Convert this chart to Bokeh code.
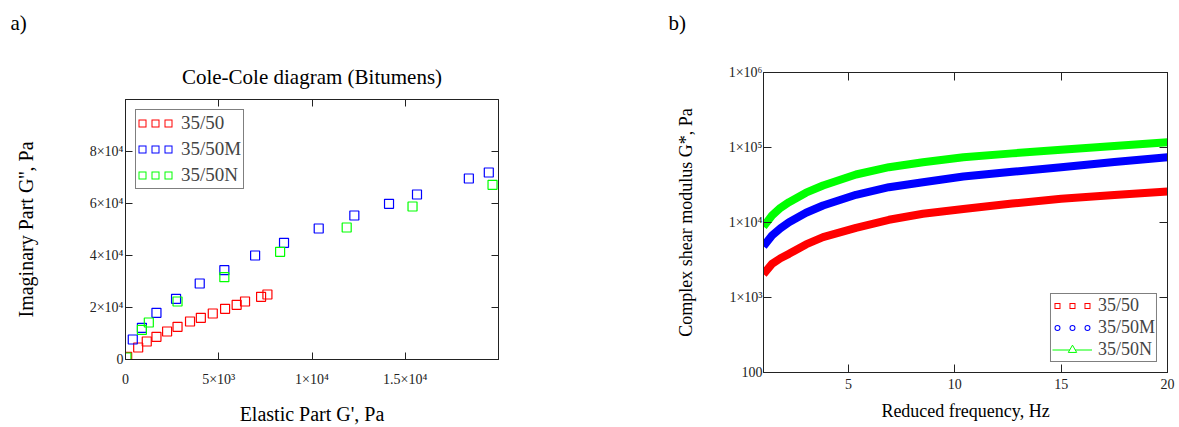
from bokeh.plotting import figure
from bokeh.layouts import row, column
from bokeh.models import (Range1d, LinearAxis, LogAxis, FixedTicker, CustomJSTickFormatter,
                          Legend, LegendItem, Title, Label)
from bokeh.embed import file_html
from bokeh.resources import INLINE

FONT = "Liberation Serif"

# ---------------- panel a) : Cole-Cole diagram ----------------
series_labels = ["35/50", "35/50M", "35/50N"]
red_gp = [90, 680, 1140, 1660, 2230, 2790, 3460, 4040, 4680, 5340, 5960, 6410, 7270, 7610]
red_gpp = [1030, 4620, 6920, 8720, 10770, 12560, 14620, 16030, 17690, 19490, 21030, 22310, 24100, 25000]
blue_gp = [390, 880, 1660, 2710, 3980, 5300, 6950, 8500, 10360, 12270, 14130, 15630, 18410, 19480]
blue_gpp = [7690, 12180, 17950, 23330, 29230, 34360, 40000, 44870, 50380, 55380, 59870, 63460, 69620, 71920]
green_gp = [50, 880, 1250, 2790, 5300, 8290, 11860, 15390, 19680]
green_gpp = [770, 11410, 14230, 22310, 31670, 41410, 50770, 58850, 67180]
a_xticks = [0, 5000, 10000, 15000]
a_xtick_labels = ["0", "5×10³", "1×10⁴", "1.5×10⁴"]
a_yticks = [0, 20000, 40000, 60000, 80000]
a_ytick_labels = ["0", "2×10⁴", "4×10⁴", "6×10⁴", "8×10⁴"]

# ---------------- panel b) : complex shear modulus ----------------
freq = [1, 1.4, 1.8, 2.2, 3, 3.8, 5.35, 6.9, 8.5, 10.4, 12.7, 15, 17.5, 20]
g_red = [2050, 2810, 3340, 3820, 5100, 6370, 8490, 10870, 13060, 15150, 17900, 20700, 23300, 25900]
g_blue = [4800, 6710, 8390, 10100, 13500, 16860, 23400, 29560, 34450, 41040, 47500, 54600, 64000, 74300]
g_green = [8800, 12400, 15700, 18650, 25000, 31150, 43650, 54600, 63700, 74300, 83500, 93100, 105000, 117700]
b_xticks = [5, 10, 15, 20]
b_xtick_labels = ["5", "10", "15", "20"]
b_yticks = [100, 1000, 10000, 100000, 1000000]
b_ytick_labels = ["100", "1×10³", "1×10⁴", "1×10⁵", "1×10⁶"]

RED, BLUE, GREEN = "#ff0000", "#0000ff", "#00ff00"
AX = "#222222"
HEAD = 36


def style_axis(ax, ticks, labels, standoff, tick_in, label, label_size, label_standoff):
    ax.ticker = FixedTicker(ticks=ticks)
    ax.major_label_overrides = {t: l for t, l in zip(ticks, labels)}
    ax.major_label_text_font = FONT
    ax.major_label_text_font_size = "14px"
    ax.major_label_text_color = AX
    ax.major_label_standoff = standoff
    ax.major_tick_in = tick_in
    ax.major_tick_out = 0
    ax.minor_tick_line_color = None
    ax.axis_line_color = AX
    ax.major_tick_line_color = AX
    ax.axis_label = label
    ax.axis_label_text_font = FONT
    ax.axis_label_text_font_size = f"{label_size}px"
    ax.axis_label_text_font_style = "normal"
    ax.axis_label_text_color = "black"
    ax.axis_label_standoff = label_standoff


def mirror(p, cls, loc, ticks, tick_in):
    ax = cls(ticker=FixedTicker(ticks=ticks),
             formatter=CustomJSTickFormatter(code="return ''"))
    ax.major_tick_in = tick_in
    ax.major_tick_out = 0
    ax.minor_tick_line_color = None
    ax.major_label_standoff = 0
    ax.axis_line_color = AX
    ax.major_tick_line_color = AX
    p.add_layout(ax, loc)


# ---- header strip with the panel letters
head = figure(width=1179, height=HEAD, x_range=Range1d(0, 1), y_range=Range1d(0, 1),
              output_backend="svg", toolbar_location=None, min_border=0,
              x_axis_location=None, y_axis_location=None)
head.grid.visible = False
head.outline_line_color = None
for txt, sx in (("a)", 10), ("b)", 668)):
    head.add_layout(Label(x=sx, y=HEAD - 22, x_units="screen", y_units="screen", text=txt,
                          text_font=FONT, text_font_size="21px", text_align="left",
                          text_baseline="middle", text_color="black"))

# ---- figure a
p1 = figure(width=600, height=427 - HEAD, x_range=Range1d(0, 20000), y_range=Range1d(0, 100000),
            output_backend="svg", toolbar_location=None,
            min_border_left=125, min_border_right=102, min_border_top=99 - HEAD, min_border_bottom=68)
p1.grid.visible = False
p1.outline_line_color = AX
style_axis(p1.xaxis[0], a_xticks, a_xtick_labels, 12, 7, "Elastic Part G', Pa", 20, 13)
style_axis(p1.yaxis[0], a_yticks, a_ytick_labels, 2, 7, "Imaginary Part G'', Pa", 20, 50)
mirror(p1, LinearAxis, "above", a_xticks, 7)
mirror(p1, LinearAxis, "right", a_yticks, 7)
p1.add_layout(Title(text="Cole-Cole diagram (Bitumens)", align="center", standoff=22,
                    text_font=FONT, text_font_size="21px", text_font_style="normal",
                    text_color="black"), "above")

p1.scatter(red_gp, red_gpp, marker="square", size=9, line_color=RED, fill_color=None, line_width=1.2)
p1.scatter(blue_gp, blue_gpp, marker="square", size=9, line_color=BLUE, fill_color=None, line_width=1.2)
p1.scatter(green_gp, green_gpp, marker="square", size=9, line_color=GREEN, fill_color=None, line_width=1.2)

# legend swatches: three hollow squares per entry (hidden helper renderers)
items1 = []
for lab, xs, ys, col in ((series_labels[0], red_gp, red_gpp, RED),
                         (series_labels[1], blue_gp, blue_gpp, BLUE),
                         (series_labels[2], green_gp, green_gpp, GREEN)):
    outer = p1.line(xs, ys, line_color=col, line_width=8, line_dash="8 5", visible=False)
    inner = p1.line(xs, ys, line_color="white", line_width=6, line_dash="0 1 6 6", visible=False)
    items1.append(LegendItem(label=lab, renderers=[outer, inner]))

leg1 = Legend(items=items1, location="top_left", margin=10, padding=2, spacing=4,
              label_height=20, glyph_height=20, glyph_width=36, label_standoff=7,
              label_text_font=FONT, label_text_font_size="19px",
              border_line_color="black", border_line_width=1, inactive_fill_alpha=0)
p1.add_layout(leg1)

# ---- figure b
p2 = figure(width=579, height=427 - HEAD, x_range=Range1d(1, 20), y_range=Range1d(100, 1000000),
            y_axis_type="log", output_backend="svg", toolbar_location=None,
            min_border_left=163, min_border_right=12, min_border_top=72 - HEAD, min_border_bottom=55)
p2.grid.visible = False
p2.outline_line_color = AX
style_axis(p2.xaxis[0], b_xticks, b_xtick_labels, 6, 8, "Reduced frequency, Hz", 18, 9)
style_axis(p2.yaxis[0], b_yticks, b_ytick_labels, 1, 8, "Complex shear modulus G*, Pa", 18, 30)
mirror(p2, LinearAxis, "above", b_xticks, 8)
mirror(p2, LogAxis, "right", b_yticks, 8)

p2.line(freq, g_red, line_color=RED, line_width=8, line_join="round")
p2.line(freq, g_blue, line_color=BLUE, line_width=8, line_join="round")
p2.line(freq, g_green, line_color=GREEN, line_width=8, line_join="round")

# legend swatches (hidden helper renderers)
r_out = p2.line(freq, g_red, line_color=RED, line_width=6, line_dash="6 9",
                line_dash_offset=-2, visible=False)
r_in = p2.line(freq, g_red, line_color="white", line_width=4, line_dash="4 11",
               line_dash_offset=-3, visible=False)
b_out = p2.line(freq, g_blue, line_color=BLUE, line_width=6, line_cap="round",
                line_dash="0 15", line_dash_offset=-5, visible=False)
b_in = p2.line(freq, g_blue, line_color="white", line_width=4, line_cap="round",
               line_dash="0 15", line_dash_offset=-5, visible=False)
g_ln = p2.line(freq, g_green, line_color=GREEN, line_width=1, visible=False)
g_tr = p2.scatter(freq, g_green, marker="triangle", line_color=GREEN, fill_color="white", visible=False)

leg2 = Legend(items=[LegendItem(label=series_labels[0], renderers=[r_out, r_in]),
                     LegendItem(label=series_labels[1], renderers=[b_out, b_in]),
                     LegendItem(label=series_labels[2], renderers=[g_ln, g_tr])],
              location="bottom_right", margin=10, padding=1, spacing=1,
              label_height=21, glyph_height=21, glyph_width=40, label_standoff=6,
              label_text_font=FONT, label_text_font_size="18px",
              border_line_color="black", border_line_width=1, inactive_fill_alpha=0)
p2.add_layout(leg2)

layout = column(head, row(column(p1), column(p2)))
open("out.html", "w").write(file_html(layout, INLINE))
